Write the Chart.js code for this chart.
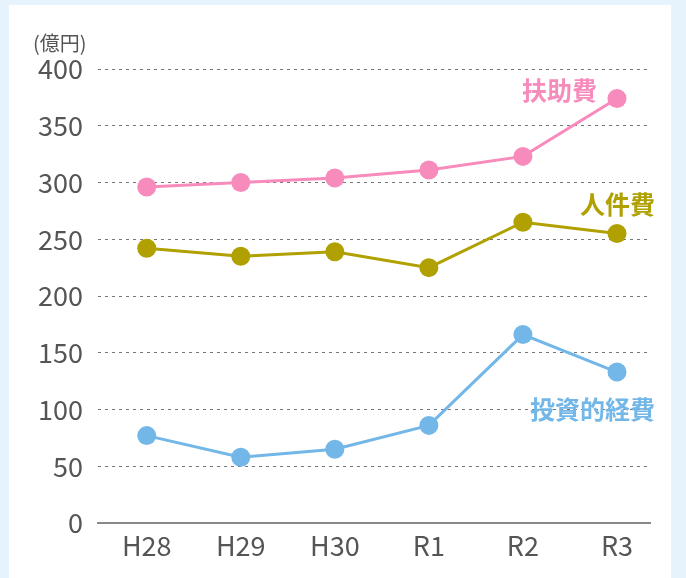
<!DOCTYPE html>
<html>
<head>
<meta charset="utf-8">
<script src="https://cdn.jsdelivr.net/npm/chart.js@4/dist/chart.umd.min.js"></script>
<style>
  html, body { margin: 0; padding: 0; background: #e6f3fc; }
  #panel { position: absolute; left: 9px; top: 5px; width: 662px; height: 573px; background: #fff; }
  #wrap { position: absolute; left: 0; top: 0; width: 686px; height: 578px; }
</style>
</head>
<body>
<div id="panel"></div>
<div id="wrap"><canvas id="costChart" width="686" height="578"></canvas></div>
<script>
// 年度
const years = ['H28', 'H29', 'H30', 'R1', 'R2', 'R3'];
// 億円
const fujohi = [296, 300, 304, 311, 323, 374];
const jinkenhi = [242, 235, 239, 225, 265, 255];
const toshiteki = [77, 58, 65, 86, 166, 133];
const seriesNames = ['扶助費', '人件費', '投資的経費'];
const seriesColors = ['#f78bbb', '#b0a000', '#72b7e7'];
const yTicks = [0, 50, 100, 150, 200, 250, 300, 350, 400];

const FONT = '"Noto Sans CJK JP", "Noto Sans", sans-serif';

function toPoints(arr) {
    return arr.map((v, i) => ({ x: i, y: v }));
}

// series names drawn next to the last point of each line
const seriesLabels = {
    id: 'seriesLabels',
    afterDatasetsDraw(chart) {
        const ctx = chart.ctx;
        const offsets = [[-20, -8], [38, -29], [38, 37]];
        ctx.save();
        ctx.font = 'bold 25px ' + FONT;
        ctx.textAlign = 'right';
        ctx.textBaseline = 'middle';
        chart.data.datasets.forEach((ds, i) => {
            const pts = chart.getDatasetMeta(i).data;
            const last = pts[pts.length - 1];
            ctx.fillStyle = seriesColors[i];
            ctx.fillText(seriesNames[i], last.x + offsets[i][0], last.y + offsets[i][1]);
        });
        // unit
        ctx.font = '20px ' + FONT;
        ctx.fillStyle = '#555';
        ctx.textAlign = 'left';
        ctx.fillText('(億円)', 33, 43);
        ctx.restore();
    }
};

function makeDataset(label, values, color) {
    return {
        label: label,
        data: toPoints(values),
        borderColor: color,
        backgroundColor: color,
        pointBackgroundColor: color,
        pointBorderColor: color,
        pointBorderWidth: 0,
        pointRadius: 9.5,
        borderWidth: 3,
        tension: 0,
        fill: false,
    };
}

new Chart(document.getElementById('costChart').getContext('2d'), {
    type: 'line',
    data: {
        datasets: [
            makeDataset(seriesNames[0], fujohi, seriesColors[0]),
            makeDataset(seriesNames[1], jinkenhi, seriesColors[1]),
            makeDataset(seriesNames[2], toshiteki, seriesColors[2]),
        ]
    },
    options: {
        responsive: false,
        animation: false,
        layout: { padding: { left: 0, right: 36, top: 69, bottom: 0 } },
        plugins: {
            legend: { display: false },
            tooltip: { enabled: false }
        },
        scales: {
            x: {
                type: 'linear',
                min: -0.518,
                max: 5.351,
                afterBuildTicks: (scale) => { scale.ticks = years.map((_, i) => ({ value: i })); },
                afterFit: (scale) => { scale.height = 55; },
                grid: { display: false, drawTicks: false },
                border: { display: true, color: '#888', width: 2 },
                ticks: {
                    padding: 7,
                    color: '#555',
                    font: { family: FONT, size: 27 },
                    callback: (v) => years[v]
                }
            },
            y: {
                min: 0,
                max: 400,
                afterBuildTicks: (scale) => { scale.ticks = yTicks.map(v => ({ value: v })); },
                afterFit: (scale) => { scale.width = 98; },
                grid: {
                    drawTicks: false,
                    color: (c) => c.tick && c.tick.value === 0 ? 'rgba(0,0,0,0)' : '#777',
                    lineWidth: 1
                },
                border: { display: false, dash: [3, 4] },
                ticks: {
                    padding: 15,
                    color: '#555',
                    font: { family: FONT, size: 27 }
                }
            }
        }
    },
    plugins: [seriesLabels]
});
</script>
</body>
</html>
